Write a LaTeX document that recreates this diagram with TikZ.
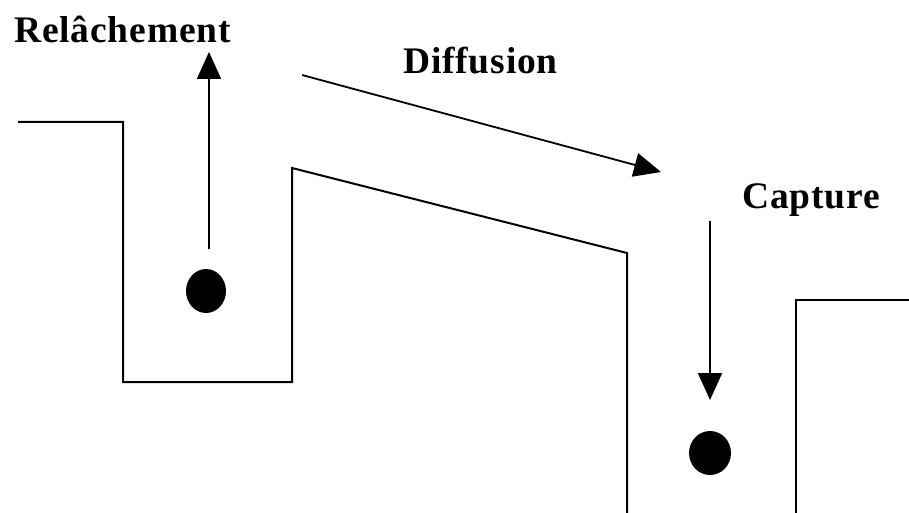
\documentclass[tikz,border=0pt]{standalone}
\usepackage{fontspec}
\setmainfont{Liberation Serif}
\usetikzlibrary{arrows.meta}
\begin{document}
\begin{tikzpicture}[x=1pt,y=-1pt,
  wall/.style={line width=2pt,line join=miter},
  flow/.style={line width=1.8pt,-{Triangle[length=27pt,width=24pt]}},
  lbl/.style={font=\fontsize{37.5}{40}\selectfont\bfseries\addfontfeature{LetterSpace=2.2},inner sep=0pt,anchor=base west}]
\useasboundingbox (0,0) rectangle (909,513);
\draw[wall] (18,122) -- (123,122) -- (123,382) -- (292,382) -- (292,168) -- (627,253) -- (627,515);
\draw[wall] (909,300) -- (796,300) -- (796,515);
\node[lbl] (rel) at (14,43) {Relâchement};
\node[lbl] (dif) at (403,74) {Diffusion};
\node[lbl] (cap) at (742,208) {Capture};
\fill (206,291) ellipse [x radius=20, y radius=22];
\fill (710,453) ellipse [x radius=21, y radius=22];
\coordinate (r0) at (209,249);
\coordinate (r1) at (209,52);
\coordinate (f0) at (302,75);
\coordinate (f1) at (661,172);
\coordinate (c0) at (710,221);
\coordinate (c1) at (710,400);
\draw[flow] (r0) -- (r1);
\draw[flow] (f0) -- (f1);
\draw[flow] (c0) -- (c1);
\end{tikzpicture}
\end{document}
